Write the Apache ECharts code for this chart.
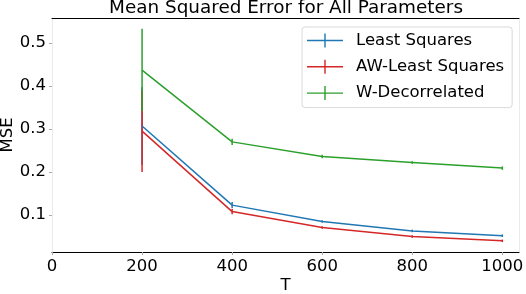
<!DOCTYPE html>
<html><head><meta charset="utf-8">
<script src="https://cdn.jsdelivr.net/npm/echarts@6/dist/echarts.min.js"></script>
<style>html,body{margin:0;padding:0;background:#fff}#c{width:526px;height:294px}</style>
</head><body><div id="c"></div>
<script>
const T = [200, 400, 600, 800, 1000];
const lsMSE = [0.307, 0.123, 0.085, 0.063, 0.052];
const lsErr = [0.090, 0.007, 0.003, 0.003, 0.003];
const awMSE = [0.295, 0.108, 0.071, 0.050, 0.040];
const awErr = [0.095, 0.006, 0.003, 0.003, 0.003];
const wdMSE = [0.437, 0.270, 0.236, 0.222, 0.209];
const wdErr = [0.096, 0.007, 0.004, 0.003, 0.004];
const xTicks = [0, 200, 400, 600, 800, 1000];
const yTicks = [0.1, 0.2, 0.3, 0.4, 0.5];
const names = ['Least Squares', 'AW-Least Squares', 'W-Decorrelated'];
const colors = ['#1f77b4', '#d62728', '#2ca02c'];

const FONT = 'DejaVu Sans';
const chart = echarts.init(document.getElementById('c'), null, {renderer: 'canvas'});

function lineSeries(i, vals) {
  return {
    type: 'line', name: names[i], data: T.map((t, k) => [t, vals[k]]),
    showSymbol: false, symbol: 'none', color: colors[i],
    lineStyle: {color: colors[i], width: 1.5}, animation: false, z: 2
  };
}
function errSeries(i, vals, errs) {
  return {
    type: 'custom', name: names[i] + ' err', color: colors[i], z: 2, animation: false,
    data: T.map((t, k) => [t, vals[k], errs[k]]),
    renderItem: function (params, api) {
      const x = api.value(0), y = api.value(1), e = api.value(2);
      const a = api.coord([x, y + e]), b = api.coord([x, y - e]);
      return {type: 'line', shape: {x1: a[0], y1: a[1], x2: b[0], y2: b[1]},
        style: {stroke: colors[i], lineWidth: 1.5}};
    }
  };
}
const icon = 'path://M0,6.3h36v1.4h-36z M17.3,0h1.4v14h-1.4z';

chart.setOption({
  backgroundColor: '#fff',
  animation: false,
  title: {text: 'Mean Squared Error for All Parameters', left: 281, textAlign: 'center', top: -6,
    textStyle: {fontFamily: FONT, fontSize: 18.4, fontWeight: 'normal', color: '#000'}},
  grid: {left: 52, right: 7, top: 18, bottom: 42, containLabel: false, outerBoundsMode: 'none'},
  legend: {
    orient: 'vertical', left: 302, top: 27, width: 215,
    padding: [5, 8, 6, 5], itemGap: 9.3, itemWidth: 36, itemHeight: 14,
    backgroundColor: '#fff', borderColor: '#d9d9d9', borderWidth: 1, borderRadius: 3,
    textStyle: {fontFamily: FONT, fontSize: 16.5, color: '#000', padding: [0, 0, 0, 8]},
    data: names.map((n, i) => ({name: n, icon: icon, itemStyle: {color: colors[i]}}))
  },
  xAxis: [{
    type: 'value', min: 0, max: 1037, position: 'bottom',
    name: 'T', nameLocation: 'middle', nameGap: 25, nameMoveOverlap: false,
    nameTextStyle: {fontFamily: FONT, fontSize: 16.5, color: '#000'},
    axisLine: {show: true, onZero: false, lineStyle: {color: '#000', width: 1}},
    axisTick: {show: true, length: 3, lineStyle: {color: '#aaa'}, customValues: xTicks},
    axisLabel: {fontFamily: FONT, fontSize: 16.5, color: '#000', margin: 6, customValues: xTicks,
      formatter: v => String(v)},
    splitLine: {show: false}
  }, {
    type: 'value', min: 0, max: 1037, position: 'top',
    axisLine: {show: true, onZero: false, lineStyle: {color: '#000', width: 1}},
    axisTick: {show: false}, axisLabel: {show: false}, splitLine: {show: false}
  }],
  yAxis: [{
    type: 'value', min: 0.014, max: 0.558, position: 'left',
    name: 'MSE', nameLocation: 'middle', nameGap: 36, nameRotate: 90, nameMoveOverlap: false,
    nameTextStyle: {fontFamily: FONT, fontSize: 16.5, color: '#000'},
    axisLine: {show: true, onZero: false, lineStyle: {color: '#ebebeb', width: 1}},
    axisTick: {show: true, length: 3, lineStyle: {color: '#aaa'}, customValues: yTicks},
    axisLabel: {fontFamily: FONT, fontSize: 16.5, color: '#000', margin: 6, customValues: yTicks,
      formatter: v => v.toFixed(1)},
    splitLine: {show: false}
  }, {
    type: 'value', min: 0.014, max: 0.558, position: 'right',
    axisLine: {show: true, onZero: false, lineStyle: {color: '#ebebeb', width: 1}},
    axisTick: {show: false}, axisLabel: {show: false}, splitLine: {show: false}
  }],
  series: [
    lineSeries(0, lsMSE), errSeries(0, lsMSE, lsErr),
    lineSeries(1, awMSE), errSeries(1, awMSE, awErr),
    lineSeries(2, wdMSE), errSeries(2, wdMSE, wdErr)
  ]
});
</script></body></html>
